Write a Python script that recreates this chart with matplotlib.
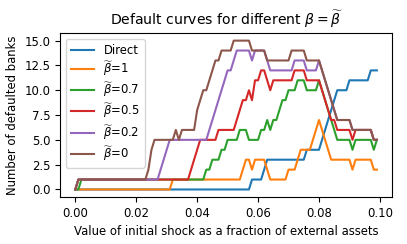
import matplotlib
matplotlib.use('Agg')
import matplotlib.pyplot as plt
import numpy as np

# shock grid: 0.000 .. 0.099
shocks = np.arange(100) * 0.001

direct = [
    0, 0, 0, 0, 0, 0, 0, 0, 0, 0,
    0, 0, 0, 0, 0, 0, 0, 0, 0, 0,
    0, 0, 0, 0, 0, 0, 0, 0, 0, 0,
    0, 0, 0, 0, 0, 0, 0, 0, 0, 0,
    0, 0, 0, 0, 0, 0, 0, 0, 0, 0,
    0, 0, 0, 0, 0, 0, 0, 0, 1, 1,
    1, 1, 2, 3, 3, 3, 3, 3, 3, 3,
    3, 3, 3, 3, 3, 3, 4, 4, 4, 4,
    4, 5, 6, 7, 8, 9, 10, 10, 10, 10,
    11, 11, 11, 11, 11, 11, 11, 12, 12, 12]

beta_1 = [
    0, 0, 0, 0, 0, 0, 0, 0, 0, 0,
    0, 0, 0, 0, 0, 0, 0, 0, 0, 0,
    0, 0, 0, 0, 0, 0, 0, 0, 0, 0,
    0, 0, 1, 1, 1, 1, 1, 1, 1, 1,
    1, 1, 1, 1, 1, 1, 1, 1, 1, 1,
    1, 1, 1, 1, 1, 2, 3, 3, 2, 3,
    3, 3, 3, 2, 1, 1, 1, 1, 1, 1,
    2, 2, 2, 3, 4, 4, 4, 4, 5, 6,
    7, 6, 5, 4, 3, 3, 3, 3, 3, 3,
    3, 2, 3, 3, 3, 3, 3, 3, 2, 2]

beta_07 = [
    0, 0, 1, 1, 1, 1, 1, 1, 1, 1,
    1, 1, 1, 1, 1, 1, 1, 1, 1, 1,
    1, 1, 1, 1, 1, 1, 1, 1, 1, 1,
    1, 1, 1, 1, 1, 1, 1, 1, 1, 1,
    1, 1, 1, 2, 2, 3, 3, 3, 4, 4,
    5, 5, 5, 5, 6, 6, 6, 5, 5, 5,
    5, 6, 6, 7, 6, 7, 7, 8, 9, 9,
    10, 10, 10, 11, 11, 11, 10, 10, 10, 10,
    11, 10, 9, 8, 7, 6, 5, 5, 5, 5,
    5, 4, 5, 5, 5, 5, 5, 5, 4, 5]

beta_05 = [
    0, 1, 1, 1, 1, 1, 1, 1, 1, 1,
    1, 1, 1, 1, 1, 1, 1, 1, 1, 1,
    1, 1, 1, 1, 1, 1, 1, 1, 1, 1,
    1, 1, 1, 1, 1, 1, 1, 1, 2, 3,
    4, 5, 5, 5, 5, 5, 5, 6, 6, 6,
    6, 6, 6, 7, 8, 9, 9, 10, 9, 11,
    11, 12, 12, 11, 10, 11, 11, 11, 11, 11,
    11, 11, 12, 12, 12, 12, 11, 11, 11, 11,
    11, 10, 9, 8, 7, 7, 6, 6, 6, 6,
    6, 5, 6, 6, 6, 6, 6, 6, 5, 5]

beta_02 = [
    0, 1, 1, 1, 1, 1, 1, 1, 1, 1,
    1, 1, 1, 1, 1, 1, 1, 1, 1, 1,
    1, 1, 1, 1, 1, 1, 1, 1, 2, 3,
    4, 5, 5, 5, 5, 5, 5, 5, 5, 5,
    5, 5, 5, 5, 6, 7, 8, 9, 10, 11,
    12, 12, 13, 14, 14, 14, 14, 14, 13, 14,
    14, 14, 14, 13, 12, 12, 12, 12, 12, 12,
    12, 12, 13, 13, 13, 13, 12, 12, 12, 12,
    13, 12, 11, 10, 9, 8, 7, 7, 7, 7,
    7, 6, 6, 6, 6, 6, 6, 6, 5, 5]

beta_0 = [
    0, 1, 1, 1, 1, 1, 1, 1, 1, 1,
    1, 1, 1, 1, 1, 1, 1, 1, 1, 1,
    1, 1, 1, 1, 2, 4, 5, 5, 5, 5,
    5, 5, 5, 6, 5, 6, 6, 6, 6, 6,
    8, 9, 10, 10, 11, 12, 13, 13, 14, 14,
    14, 14, 15, 15, 15, 15, 15, 15, 14, 14,
    14, 14, 14, 13, 13, 13, 13, 13, 13, 13,
    13, 14, 14, 14, 14, 14, 13, 13, 13, 13,
    13, 12, 11, 10, 9, 8, 7, 7, 7, 7,
    7, 6, 6, 6, 6, 6, 6, 6, 5, 5]

series = [direct, beta_1, beta_07, beta_05, beta_02, beta_0]
labels = ['Direct', r'$\widetilde{\beta}$=1', r'$\widetilde{\beta}$=0.7',
          r'$\widetilde{\beta}$=0.5', r'$\widetilde{\beta}$=0.2', r'$\widetilde{\beta}$=0']

plt.rcParams['font.size'] = 8.4

fig = plt.figure(figsize=(4.07, 2.44), dpi=100)
ax = fig.add_axes([0.148, 0.193, 0.815, 0.671])

for vals, lab in zip(series, labels):
    ax.plot(shocks, vals, label=lab)

ax.set_title(r'Default curves for different $\beta = \widetilde{\beta}$')
ax.set_xlabel('Value of initial shock as a fraction of external assets')
ax.set_ylabel('Number of defaulted banks')
ax.legend(loc='upper left', labelspacing=0.2)

fig.savefig('out.png', dpi=100)
